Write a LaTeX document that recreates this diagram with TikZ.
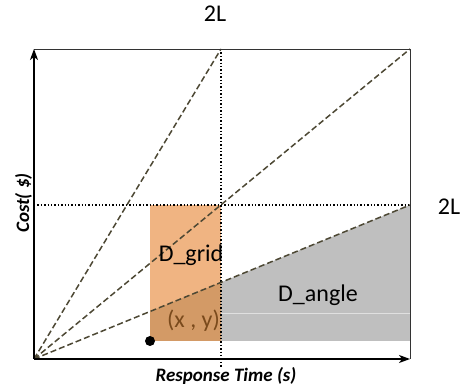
\documentclass[tikz,border=0pt]{standalone}
\usepackage{fontspec}
\setmainfont{Carlito}
\usetikzlibrary{arrows.meta}
\definecolor{gridorange}{HTML}{F0B482}
\definecolor{gridbrown}{HTML}{D39A66}
\definecolor{anglegrey}{HTML}{BFBFBF}
\definecolor{rayolive}{HTML}{4D4834}
\definecolor{pointbrown}{HTML}{7A4A1C}
\tikzset{every node/.style={font=\fontsize{24}{28}\selectfont,inner sep=0pt},
  axis/.style={draw=black,line width=1.3pt,-{Stealth[length=11pt,width=8pt,inset=3pt]}},
  frame/.style={draw=black!80,line width=0.9pt},
  guide/.style={draw=black,line width=1.4pt,dotted},
  ray/.style={draw=rayolive,line width=1.5pt,dash pattern=on 6pt off 3pt},
  axislabel/.style={font=\bfseries\itshape\fontsize{19}{22}\selectfont}}
\begin{document}
\begin{tikzpicture}[x=1pt,y=1pt]
  \path[use as bounding box] (-34,-28) rectangle (432,359);
  \coordinate (O) at (0,0);
  \coordinate (xend) at (376,0);
  \coordinate (yend) at (0,310);
  \coordinate (corner) at (376,310);
  \coordinate (midtop) at (187,310);
  \coordinate (midbot) at (187,-9);
  \coordinate (leftmid) at (0,154);
  \coordinate (rightmid) at (376,154);
  % regions
  \fill[gridorange] (116,18) rectangle (187,154);
  \fill[anglegrey] (187,18) -- (376,18) -- (rightmid) -- (187,76.6) -- cycle;
  \fill[gridbrown] (116,18) -- (187,18) -- (187,76.6) -- (116,47.5) -- cycle;
  \draw[white!88!black,line width=0.6pt] (187,46) -- (376,46);
  % guides and rays
  \draw[guide] (midtop) -- (midbot);
  \draw[guide] (leftmid) -- (rightmid);
  \draw[ray] (O) -- (midtop);
  \draw[ray] (O) -- (corner);
  \draw[ray] (O) -- (rightmid);
  % frame and axes
  \draw[frame] (yend) -- (corner) -- (xend);
  \draw[axis] (O) -- (yend);
  \draw[axis] (O) -- (xend);
  \fill[black] (116,18) circle (5);
  % labels
  \node[anchor=base] (toplabel) at (181,337) {2L};
  \node[anchor=base] (rightlabel) at (415,144) {2L};
  \node[anchor=base] (grid) at (157,97) {D\_grid};
  \node[anchor=base] (angle) at (284,57) {D\_angle};
  \node[anchor=base,text=pointbrown] (point) at (159.5,31) {(x , y)};
  \node[axislabel,anchor=base] (xlabel) at (192,-23) {Response Time (s)};
  \node[axislabel,anchor=base,rotate=90] (ylabel) at (-5,156) {Cost( \$)};
\end{tikzpicture}
\end{document}
